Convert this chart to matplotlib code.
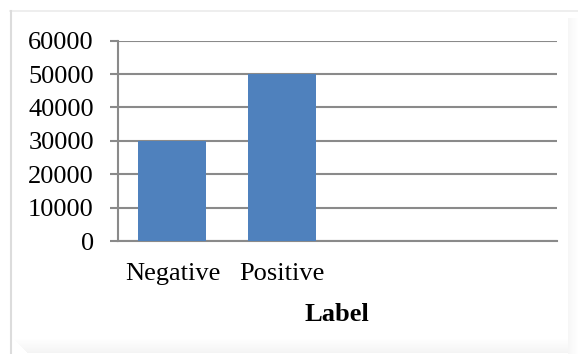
import matplotlib
matplotlib.use("Agg")
import matplotlib.pyplot as plt
from matplotlib.patches import Rectangle

# Data
categories = ["Negative", "Positive", "", ""]
counts = [30000, 50000, 0, 0]
y_ticks = [0, 10000, 20000, 30000, 40000, 50000, 60000]
x_title = "Label"

BAR_COLOR = "#4f81bd"
GRID_COLOR = "#8a8a8a"
FONT = "Liberation Serif"
FS = 19

W, H, DPI = 578, 354, 100
fig = plt.figure(figsize=(W / DPI, H / DPI), dpi=DPI)
fig.patch.set_facecolor("white")

# Chart-area frame: thin light border plus a soft shadow along right and bottom
fig.lines.append(plt.Line2D([10 / W, 1], [1 - 10.5 / H] * 2, transform=fig.transFigure,
                            color="#ebebeb", linewidth=1.2))
fig.lines.append(plt.Line2D([11 / W] * 2, [1 - 10.5 / H, 0], transform=fig.transFigure,
                            color="#dcdcdc", linewidth=1.5))
for i in range(10):
    a = 0.035 * (1 - i / 10)
    fig.patches.append(Rectangle(((568 + i) / W, 0), 1 / W, (H - 18) / H,
                                 transform=fig.transFigure, facecolor="black",
                                 edgecolor="none", alpha=a))
for i in range(14):
    a = 0.004 + 0.003 * i
    fig.patches.append(Rectangle(((14 + i) / W, 1 - (340 + i) / H), (554 - i) / W, 1 / H,
                                 transform=fig.transFigure, facecolor="black",
                                 edgecolor="none", alpha=a))

left, right = 117.5 / W, 557 / W
bottom, top = 1 - 241 / H, 1 - 40.7 / H
ax = fig.add_axes([left, bottom, right - left, top - bottom])

x = list(range(len(categories)))
ax.bar(x, counts, width=0.62, color=BAR_COLOR, zorder=3)

ax.set_xlim(-0.5, len(categories) - 0.5)
ax.set_ylim(0, 60000)
ax.set_yticks(y_ticks)
ax.set_yticklabels([str(v) for v in y_ticks], fontfamily=FONT, fontsize=FS)
ax.set_xticks(x)
ax.set_xticklabels(categories, fontfamily=FONT, fontsize=FS)

ax.yaxis.grid(True, color=GRID_COLOR, linewidth=1.5, zorder=0)
ax.set_axisbelow(True)

for s in ["top", "right"]:
    ax.spines[s].set_visible(False)
ax.spines["left"].set_color(GRID_COLOR)
ax.spines["left"].set_linewidth(1.5)
ax.spines["bottom"].set_color(GRID_COLOR)
ax.spines["bottom"].set_linewidth(1.5)

ax.tick_params(axis="y", length=6, width=1.5, color=GRID_COLOR, pad=11, labelcolor="black")
ax.tick_params(axis="x", length=0, pad=16, labelcolor="black")

ax.set_xlabel(x_title, fontfamily=FONT, fontsize=FS, fontweight="bold", labelpad=13)

fig.savefig("out.png", dpi=DPI)
